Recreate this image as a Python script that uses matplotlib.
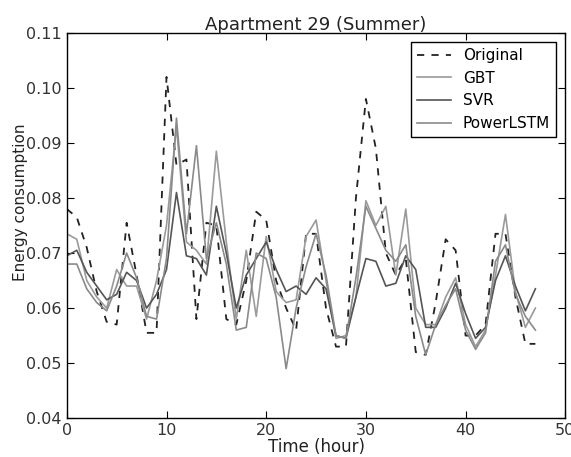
import matplotlib
matplotlib.use('Agg')
import matplotlib.pyplot as plt

hours = list(range(48))
original = [0.078, 0.0765, 0.071, 0.063, 0.0575, 0.057, 0.0755, 0.066, 0.0555, 0.0555,
            0.102, 0.086, 0.087, 0.058, 0.0755, 0.075, 0.058, 0.057, 0.065, 0.0775,
            0.076, 0.065, 0.060, 0.056, 0.0735, 0.0735, 0.060, 0.053, 0.053, 0.080,
            0.098, 0.089, 0.070, 0.066, 0.069, 0.052, 0.0515, 0.061, 0.0725, 0.0705,
            0.055, 0.055, 0.057, 0.0735, 0.0735, 0.062, 0.0535, 0.0535]
gbt = [0.0735, 0.0725, 0.065, 0.062, 0.060, 0.067, 0.064, 0.064, 0.058, 0.065,
       0.075, 0.093, 0.072, 0.0705, 0.068, 0.0885, 0.072, 0.058, 0.0705, 0.0585,
       0.073, 0.063, 0.061, 0.0615, 0.073, 0.076, 0.065, 0.0545, 0.055, 0.062,
       0.0795, 0.075, 0.0785, 0.066, 0.078, 0.060, 0.057, 0.057, 0.062, 0.0655,
       0.057, 0.053, 0.056, 0.066, 0.077, 0.063, 0.0565, 0.060]
svr = [0.0695, 0.0705, 0.0665, 0.064, 0.0615, 0.0625, 0.0665, 0.065, 0.060, 0.0625,
       0.067, 0.081, 0.0695, 0.069, 0.066, 0.0785, 0.070, 0.060, 0.066, 0.069,
       0.072, 0.067, 0.063, 0.064, 0.0625, 0.0655, 0.0635, 0.055, 0.0545, 0.062,
       0.069, 0.0685, 0.064, 0.0645, 0.0695, 0.067, 0.0565, 0.0565, 0.060, 0.0645,
       0.059, 0.0545, 0.0565, 0.065, 0.0695, 0.064, 0.0595, 0.0635]
lstm = [0.068, 0.068, 0.0635, 0.061, 0.0595, 0.064, 0.070, 0.0655, 0.0585, 0.058,
        0.069, 0.0945, 0.0735, 0.0895, 0.069, 0.0755, 0.068, 0.056, 0.0565, 0.070,
        0.069, 0.062, 0.049, 0.060, 0.0675, 0.0735, 0.066, 0.055, 0.0545, 0.0655,
        0.0785, 0.0745, 0.0705, 0.0685, 0.0715, 0.0585, 0.0515, 0.057, 0.0605, 0.0635,
        0.056, 0.0525, 0.0555, 0.0685, 0.0715, 0.0625, 0.0585, 0.056]

fig = plt.figure(figsize=(5.71, 4.57), dpi=100)
ax = fig.add_axes([0.117, 0.085, 0.873, 0.843])
ax.plot(hours, original, '--', color='#222222', lw=1.3, dashes=(4, 4), label='Original')
ax.plot(hours, gbt, color='#9a9a9a', lw=1.2, label='GBT')
ax.plot(hours, svr, color='#555555', lw=1.2, label='SVR')
ax.plot(hours, lstm, color='#8a8a8a', lw=1.2, label='PowerLSTM')

ax.set_xlim(0, 50)
ax.set_ylim(0.04, 0.11)
ax.set_xticks([0, 10, 20, 30, 40, 50])
ax.set_yticks([0.04, 0.05, 0.06, 0.07, 0.08, 0.09, 0.10, 0.11])
ax.set_yticklabels(['0.04', '0.05', '0.06', '0.07', '0.08', '0.09', '0.10', '0.11'])
ax.tick_params(direction='in', top=True, right=True, labelsize=11.5, length=5,
               labelcolor='#333333')
for s in ax.spines.values():
    s.set_linewidth(1.0)
ax.set_xlabel('Time (hour)', fontsize=12, labelpad=0, color='#222222')
ax.set_ylabel('Energy consumption', fontsize=11, color='#222222')
ax.yaxis.set_label_coords(-0.078, 0.56)
ax.set_title('Apartment 29 (Summer)', fontsize=13, pad=2, color='#222222')
leg = ax.legend(loc='upper right', fontsize=11, fancybox=False, edgecolor='black',
                framealpha=1, handlelength=2.2, borderaxespad=0.6)
leg.get_frame().set_linewidth(1.0)

fig.savefig('out.png', dpi=100)
